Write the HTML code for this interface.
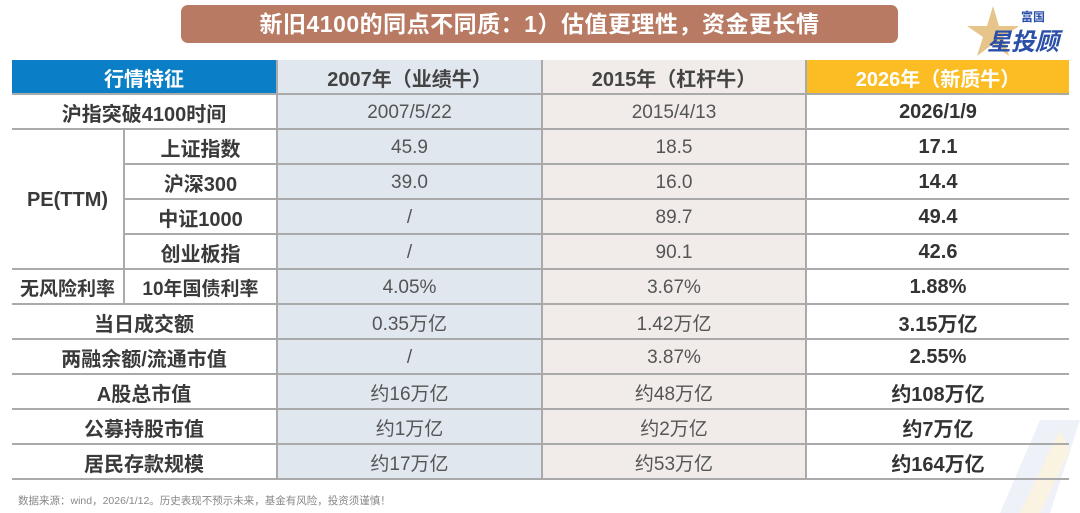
<!DOCTYPE html>
<html><head><meta charset="utf-8"><style>
body{margin:0;width:1080px;height:513px;background:#fff;position:relative;overflow:hidden;font-family:"Liberation Sans","Noto Sans CJK SC",sans-serif;}
.title{position:absolute;left:181px;top:5px;width:717px;height:38px;background:#b87a62;border-radius:7px;color:#fff;font-weight:bold;font-size:23px;line-height:38px;text-align:center;letter-spacing:0.5px}
table{position:absolute;left:12px;top:60px;border-collapse:collapse;table-layout:fixed}
td{height:35px;padding:2px 0 0 0;box-sizing:border-box;text-align:center;border-bottom:2px solid #aaa;font-size:19px;color:#555}
td.l{font-weight:bold;color:#3a3a3a;font-size:20px}
td.a{background:#e0e7ef;border-left:2px solid #aaa;border-right:2px solid #aaa}
td.b{background:#f1ecea;border-right:2px solid #aaa}
td.c{font-weight:bold;color:#333;font-size:20px}
td.vr{border-right:2px solid #aaa}
tr.h td{height:34px;font-weight:bold;font-size:20px}
.foot{position:absolute;left:18px;top:493px;font-size:10.5px;color:#888}
.logo{position:absolute;left:965px;top:4px;width:100px;height:54px}
</style></head><body>
<div class="title">新旧4100的同点不同质：1）估值更理性，资金更长情</div>
<svg class="logo" viewBox="0 0 100 54">
<polygon points="28,2 34,22 54,22 38,33 44,52 28,40 12,52 18,33 2,22 22,22" fill="#e6c48a"/>
<text x="56" y="17" font-size="12" font-weight="bold" fill="#2a4fa8" font-family="Noto Sans CJK SC">富国</text>
<text x="22" y="46" font-size="24" font-weight="bold" font-style="italic" fill="#2a4fa8" font-family="Noto Sans CJK SC">星投顾</text>
</svg>
<svg style="position:absolute;left:960px;top:400px" width="120" height="113"><polygon points="40,113 80,20 120,20 90,113" fill="#eef1f8"/><polygon points="60,113 100,30 110,50 80,113" fill="#fbf3e2"/></svg>
<table>
<colgroup><col style="width:112px"><col style="width:153px"><col style="width:265px"><col style="width:264px"><col style="width:263px"></colgroup>
<tr class="h"><td colspan="2" style="background:#0a7fc8;color:#fff;border-bottom:2px solid #aaa">行情特征</td><td class="a" style="color:#444">2007年（业绩牛）</td><td class="b" style="color:#444">2015年（杠杆牛）</td><td style="background:#fbbd23;color:#fff">2026年（新质牛）</td></tr>
<tr><td class="l" colspan="2">沪指突破4100时间</td><td class="a">2007/5/22</td><td class="b">2015/4/13</td><td class="c">2026/1/9</td></tr>
<tr><td class="l vr" rowspan="4">PE(TTM)</td><td class="l">上证指数</td><td class="a">45.9</td><td class="b">18.5</td><td class="c">17.1</td></tr>
<tr><td class="l">沪深300</td><td class="a">39.0</td><td class="b">16.0</td><td class="c">14.4</td></tr>
<tr><td class="l">中证1000</td><td class="a">/</td><td class="b">89.7</td><td class="c">49.4</td></tr>
<tr><td class="l">创业板指</td><td class="a">/</td><td class="b">90.1</td><td class="c">42.6</td></tr>
<tr><td class="l vr" style="font-size:19px">无风险利率</td><td class="l" style="font-size:19px">10年国债利率</td><td class="a">4.05%</td><td class="b">3.67%</td><td class="c">1.88%</td></tr>
<tr><td class="l" colspan="2">当日成交额</td><td class="a">0.35万亿</td><td class="b">1.42万亿</td><td class="c">3.15万亿</td></tr>
<tr><td class="l" colspan="2">两融余额/流通市值</td><td class="a">/</td><td class="b">3.87%</td><td class="c">2.55%</td></tr>
<tr><td class="l" colspan="2">A股总市值</td><td class="a">约16万亿</td><td class="b">约48万亿</td><td class="c">约108万亿</td></tr>
<tr><td class="l" colspan="2">公募持股市值</td><td class="a">约1万亿</td><td class="b">约2万亿</td><td class="c">约7万亿</td></tr>
<tr><td class="l" colspan="2">居民存款规模</td><td class="a">约17万亿</td><td class="b">约53万亿</td><td class="c">约164万亿</td></tr>
</table>
<div class="foot">数据来源：wind，2026/1/12。历史表现不预示未来，基金有风险，投资须谨慎！</div>
</body></html>
